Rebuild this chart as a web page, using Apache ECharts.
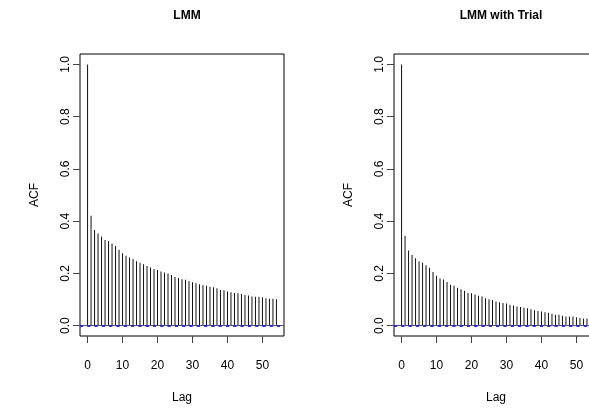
<!DOCTYPE html>
<html>
<head>
<meta charset="utf-8">
<script src="https://cdn.jsdelivr.net/npm/echarts@6/dist/echarts.min.js"></script>
<style>
  html, body { margin: 0; padding: 0; background: #fff; }
  #main { width: 589px; height: 413px; }
</style>
</head>
<body>
<div id="main"></div>
<script>
// acf values, lag 0..54
var lags = [];
for (var i = 0; i <= 54; i++) lags.push(i);

var acfLmm = [1.0, 0.421, 0.366, 0.353, 0.341, 0.328, 0.324, 0.314, 0.305, 0.290,
  0.277, 0.267, 0.261, 0.255, 0.246, 0.241, 0.235, 0.228, 0.222, 0.216,
  0.213, 0.207, 0.203, 0.199, 0.194, 0.186, 0.182, 0.177, 0.175, 0.171,
  0.166, 0.162, 0.158, 0.154, 0.152, 0.149, 0.147, 0.143, 0.136, 0.135,
  0.130, 0.128, 0.125, 0.124, 0.121, 0.117, 0.115, 0.111, 0.110, 0.110,
  0.108, 0.105, 0.103, 0.103, 0.101];

var acfTrial = [1.0, 0.344, 0.287, 0.270, 0.258, 0.246, 0.241, 0.231, 0.221, 0.205,
  0.191, 0.180, 0.176, 0.167, 0.156, 0.152, 0.145, 0.139, 0.133, 0.126,
  0.124, 0.119, 0.114, 0.111, 0.105, 0.101, 0.098, 0.092, 0.089, 0.086,
  0.084, 0.080, 0.077, 0.073, 0.071, 0.068, 0.066, 0.062, 0.059, 0.056,
  0.054, 0.051, 0.049, 0.045, 0.041, 0.041, 0.038, 0.035, 0.035, 0.035,
  0.032, 0.029, 0.027, 0.027, 0.025];

var ciBound = 0.004;
var xTicks = [0, 10, 20, 30, 40, 50];
var yTicks = [0, 0.2, 0.4, 0.6, 0.8, 1.0];
var titles = ['LMM', 'LMM with Trial'];

var font = 'Liberation Sans, Arial, Helvetica, sans-serif';
var panelLeft = [80, 394];

function pairs(vals) {
    var out = [];
    for (var i = 0; i < vals.length; i++) out.push([lags[i], vals[i]]);
    return out;
}

function makeX(idx) {
    return {
        type: 'value', gridIndex: idx, min: -2.16, max: 56.16,
        axisLine: {show: false, onZero: false},
        axisTick: {show: true, inside: false, length: 7, customValues: xTicks, lineStyle: {color: '#444'}},
        axisLabel: {customValues: xTicks, margin: 24, color: '#000', fontSize: 12, fontFamily: font},
        splitLine: {show: false},
        name: 'Lag', nameLocation: 'middle', nameGap: 56,
        nameTextStyle: {color: '#000', fontSize: 12, fontFamily: font}
    };
}

function makeY(idx) {
    return {
        type: 'value', gridIndex: idx, min: -0.04, max: 1.04,
        axisLine: {show: false, onZero: false},
        axisTick: {show: true, inside: false, length: 7, customValues: yTicks, lineStyle: {color: '#444'}},
        axisLabel: {
            customValues: yTicks, rotate: 90, margin: 8, color: '#000', fontSize: 12, fontFamily: font,
            formatter: function (v) { return v.toFixed(1); }
        },
        splitLine: {show: false},
        name: 'ACF', nameLocation: 'middle', nameRotate: 90, nameGap: 39,
        nameTextStyle: {color: '#000', fontSize: 12, fontFamily: font}
    };
}

function makeSeries(idx, vals) {
    return {
        type: 'bar', xAxisIndex: idx, yAxisIndex: idx,
        data: pairs(vals), barWidth: 1, silent: true,
        itemStyle: {color: '#111'},
        markLine: {
            silent: true, symbol: 'none', label: {show: false},
            data: [
                {yAxis: 0, lineStyle: {color: '#555', type: 'solid', width: 1}},
                {yAxis: ciBound, lineStyle: {color: '#2020ff', type: [3, 4.3], width: 1.5}},
                {yAxis: -ciBound, lineStyle: {color: '#2020ff', type: [3, 4.3], width: 1.5}}
            ]
        }
    };
}

var chart = echarts.init(document.getElementById('main'), null, {renderer: 'canvas'});
var option = {
    animation: false,
    backgroundColor: '#fff',
    title: [],
    grid: [],
    xAxis: [],
    yAxis: [],
    series: []
};
for (var k = 0; k < 2; k++) {
    option.title.push({
        text: titles[k], left: panelLeft[k] + 102, top: 5, textAlign: 'center',
        textStyle: {fontSize: 12, fontWeight: 'bold', color: '#000', fontFamily: font}
    });
    option.grid.push({
        left: panelLeft[k], top: 54, width: 204, height: 282,
        outerBoundsMode: 'none', containLabel: false,
        show: true, borderColor: '#000', borderWidth: 1, backgroundColor: 'transparent'
    });
    option.xAxis.push(makeX(k));
    option.yAxis.push(makeY(k));
}
option.series.push(makeSeries(0, acfLmm));
option.series.push(makeSeries(1, acfTrial));
chart.setOption(option);
</script>
</body>
</html>
